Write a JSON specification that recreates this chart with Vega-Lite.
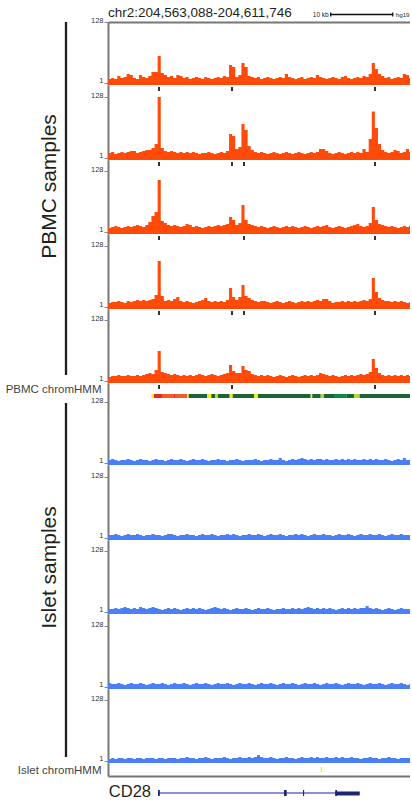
{
"$schema":"https://vega.github.io/schema/vega-lite/v6.json",
"background":"white",
"padding":{"left":5,"top":0,"right":0,"bottom":0},
"bounds":"flush",
"spacing":46,
"resolve":{"scale":{"x":"independent","y":"independent","color":"independent"}},
"config":{"font":"Liberation Sans","view":{"stroke":null},"axis":{"grid":false}},
"datasets":{
"header":[{"region":"chr2:204,563,088-204,611,746","start":0}],
"scalebar":[{"label":"10 kb","assembly":"hg19","start":35.88,"end":45.88}],
"peaks":[
{"track":"p1","x":8.22},{"track":"p1","x":19.98},{"track":"p1","x":43.02},
{"track":"p2","x":8.22},{"track":"p2","x":19.98},{"track":"p2","x":21.91},{"track":"p2","x":43.02},
{"track":"p3","x":8.22},{"track":"p3","x":21.91},{"track":"p3","x":43.02},
{"track":"p4","x":8.22},{"track":"p4","x":19.98},{"track":"p4","x":21.91},{"track":"p4","x":43.02},
{"track":"p5","x":8.22},{"track":"p5","x":19.98},{"track":"p5","x":43.02}],
"hmm":[
{"start":6.98,"end":7.41,"state":"Enhancer"},
{"start":7.41,"end":8.70,"state":"Active TSS"},
{"start":8.70,"end":10.63,"state":"Flanking TSS"},
{"start":10.63,"end":10.79,"state":"Active TSS"},
{"start":10.79,"end":12.78,"state":"Flanking TSS"},
{"start":12.78,"end":13.0,"state":"Enhancer"},
{"start":13.0,"end":16.0,"state":"Weak transcription"},
{"start":16.0,"end":16.64,"state":"Enhancer"},
{"start":16.64,"end":17.29,"state":"Weak transcription"},
{"start":17.29,"end":17.72,"state":"Genic enhancer"},
{"start":17.72,"end":19.61,"state":"Weak transcription"},
{"start":19.61,"end":20.09,"state":"Enhancer"},
{"start":20.09,"end":23.52,"state":"Weak transcription"},
{"start":23.52,"end":24.17,"state":"Enhancer"},
{"start":24.17,"end":32.66,"state":"Weak transcription"},
{"start":32.66,"end":32.91,"state":"Enhancer"},
{"start":32.91,"end":34.27,"state":"Weak transcription"},
{"start":34.27,"end":34.80,"state":"Genic enhancer"},
{"start":34.80,"end":36.41,"state":"Weak transcription"},
{"start":36.41,"end":38.39,"state":"Strong transcription"},
{"start":38.39,"end":39.63,"state":"Weak transcription"},
{"start":39.63,"end":40.55,"state":"Genic enhancer"},
{"start":40.55,"end":48.658,"state":"Weak transcription"}],
"islethmm":[{"start":34.27,"end":34.5,"state":"Enhancer"}],
"gene":[{"name":"CD28","start":8.06,"end":40.55}],
"exons":[
{"part":"exon","start":8.06,"end":8.35},
{"part":"exon","start":28.36,"end":28.79},
{"part":"exon","start":31.42,"end":31.6},
{"part":"exon","start":36.62,"end":36.9},
{"part":"UTR","start":36.62,"end":40.55}],
"sig":[
{"x":0,"p1":1.37,"p2":1.49,"p3":1.37,"p4":1.37,"p5":1.37,"i1":1.27,"i2":1.27,"i3":1.27,"i4":1.37,"i5":1.17},
{"x":0.5,"p1":1.49,"p2":1.61,"p3":1.49,"p4":1.49,"p5":1.49,"i1":1.37,"i2":1.27,"i3":1.27,"i4":1.27,"i5":1.27},
{"x":1,"p1":1.37,"p2":1.37,"p3":1.61,"p4":1.49,"p5":1.49,"i1":1.27,"i2":1.37,"i3":1.37,"i4":1.27,"i5":1.17},
{"x":1.5,"p1":1.75,"p2":1.49,"p3":1.49,"p4":1.61,"p5":1.61,"i1":1.17,"i2":1.27,"i3":1.27,"i4":1.37,"i5":1.27},
{"x":2,"p1":1.49,"p2":1.61,"p3":1.37,"p4":1.49,"p5":1.49,"i1":1.27,"i2":1.17,"i3":1.37,"i4":1.27,"i5":1.27},
{"x":2.5,"p1":1.61,"p2":1.49,"p3":1.49,"p4":1.37,"p5":1.49,"i1":1.27,"i2":1.27,"i3":1.49,"i4":1.17,"i5":1.17},
{"x":3,"p1":2.05,"p2":1.61,"p3":1.61,"p4":1.61,"p5":1.61,"i1":1.37,"i2":1.37,"i3":1.37,"i4":1.27,"i5":1.27},
{"x":3.5,"p1":1.89,"p2":1.75,"p3":1.49,"p4":1.49,"p5":1.49,"i1":1.27,"i2":1.27,"i3":1.27,"i4":1.37,"i5":1.27},
{"x":4,"p1":1.49,"p2":1.75,"p3":1.61,"p4":1.61,"p5":1.49,"i1":1.17,"i2":1.27,"i3":1.37,"i4":1.27,"i5":1.17},
{"x":4.5,"p1":1.37,"p2":1.49,"p3":1.75,"p4":1.75,"p5":1.61,"i1":1.27,"i2":1.37,"i3":1.27,"i4":1.27,"i5":1.27},
{"x":5,"p1":1.89,"p2":1.61,"p3":1.61,"p4":1.61,"p5":1.49,"i1":1.37,"i2":1.27,"i3":1.49,"i4":1.37,"i5":1.27},
{"x":5.5,"p1":1.61,"p2":1.75,"p3":1.49,"p4":1.75,"p5":1.61,"i1":1.27,"i2":1.17,"i3":1.37,"i4":1.27,"i5":1.17},
{"x":6,"p1":1.49,"p2":1.89,"p3":1.75,"p4":1.61,"p5":1.75,"i1":1.27,"i2":1.27,"i3":1.27,"i4":1.17,"i5":1.27},
{"x":6.5,"p1":1.75,"p2":1.89,"p3":2.22,"p4":1.75,"p5":1.89,"i1":1.17,"i2":1.27,"i3":1.37,"i4":1.27,"i5":1.27},
{"x":7,"p1":2.4,"p2":2.22,"p3":3.57,"p4":1.89,"p5":1.75,"i1":1.27,"i2":1.37,"i3":1.49,"i4":1.37,"i5":1.27},
{"x":7.5,"p1":2.4,"p2":3.05,"p3":4.91,"p4":2.6,"p5":2.4,"i1":1.37,"i2":1.27,"i3":1.37,"i4":1.27,"i5":1.17},
{"x":8,"p1":8.58,"p2":128,"p3":62.6,"p4":38.9,"p5":10.89,"i1":1.27,"i2":1.27,"i3":1.27,"i4":1.27,"i5":1.27},
{"x":8.5,"p1":2.22,"p2":2.22,"p3":2.4,"p4":2.4,"p5":2.05,"i1":1.27,"i2":1.17,"i3":1.17,"i4":1.37,"i5":1.27},
{"x":9,"p1":1.89,"p2":1.75,"p3":2.05,"p4":1.61,"p5":1.89,"i1":1.17,"i2":1.27,"i3":1.27,"i4":1.27,"i5":1.17},
{"x":9.5,"p1":1.61,"p2":1.61,"p3":1.75,"p4":1.75,"p5":1.75,"i1":1.27,"i2":1.37,"i3":1.37,"i4":1.17,"i5":1.27},
{"x":10,"p1":1.75,"p2":1.75,"p3":1.61,"p4":1.61,"p5":1.61,"i1":1.37,"i2":1.37,"i3":1.27,"i4":1.27,"i5":1.27},
{"x":10.5,"p1":1.49,"p2":1.61,"p3":1.75,"p4":1.89,"p5":1.75,"i1":1.27,"i2":1.27,"i3":1.37,"i4":1.37,"i5":1.27},
{"x":11,"p1":1.89,"p2":1.49,"p3":1.61,"p4":2.22,"p5":1.61,"i1":1.27,"i2":1.17,"i3":1.27,"i4":1.27,"i5":1.17},
{"x":11.5,"p1":1.75,"p2":1.61,"p3":1.49,"p4":1.61,"p5":1.49,"i1":1.37,"i2":1.27,"i3":1.17,"i4":1.27,"i5":1.27},
{"x":12,"p1":1.49,"p2":1.49,"p3":1.61,"p4":1.49,"p5":1.61,"i1":1.27,"i2":1.27,"i3":1.27,"i4":1.37,"i5":1.27},
{"x":12.5,"p1":1.61,"p2":1.61,"p3":1.89,"p4":1.61,"p5":1.49,"i1":1.17,"i2":1.37,"i3":1.37,"i4":1.27,"i5":1.37},
{"x":13,"p1":1.37,"p2":1.49,"p3":1.75,"p4":1.49,"p5":1.61,"i1":1.27,"i2":1.27,"i3":1.27,"i4":1.17,"i5":1.27},
{"x":13.5,"p1":1.49,"p2":1.61,"p3":1.49,"p4":1.37,"p5":1.49,"i1":1.37,"i2":1.27,"i3":1.37,"i4":1.27,"i5":1.27},
{"x":14,"p1":1.61,"p2":1.49,"p3":1.61,"p4":1.49,"p5":1.61,"i1":1.27,"i2":1.17,"i3":1.27,"i4":1.37,"i5":1.17},
{"x":14.5,"p1":1.49,"p2":1.37,"p3":1.49,"p4":1.61,"p5":1.75,"i1":1.27,"i2":1.27,"i3":1.37,"i4":1.27,"i5":1.27},
{"x":15,"p1":1.37,"p2":1.49,"p3":1.37,"p4":1.75,"p5":1.61,"i1":1.37,"i2":1.37,"i3":1.27,"i4":1.27,"i5":1.27},
{"x":15.5,"p1":1.61,"p2":1.49,"p3":1.49,"p4":2.05,"p5":1.49,"i1":1.27,"i2":1.27,"i3":1.17,"i4":1.37,"i5":1.37},
{"x":16,"p1":1.49,"p2":1.61,"p3":1.61,"p4":1.61,"p5":1.61,"i1":1.17,"i2":1.27,"i3":1.27,"i4":1.27,"i5":1.27},
{"x":16.5,"p1":1.37,"p2":1.49,"p3":1.49,"p4":1.49,"p5":1.75,"i1":1.27,"i2":1.37,"i3":1.37,"i4":1.17,"i5":1.17},
{"x":17,"p1":1.49,"p2":1.37,"p3":1.61,"p4":1.61,"p5":1.61,"i1":1.27,"i2":1.27,"i3":1.49,"i4":1.27,"i5":1.27},
{"x":17.5,"p1":1.61,"p2":1.49,"p3":1.75,"p4":1.49,"p5":1.49,"i1":1.37,"i2":1.17,"i3":1.37,"i4":1.37,"i5":1.27},
{"x":18,"p1":1.49,"p2":1.61,"p3":1.61,"p4":1.61,"p5":1.61,"i1":1.27,"i2":1.27,"i3":1.27,"i4":1.27,"i5":1.27},
{"x":18.5,"p1":1.75,"p2":1.49,"p3":1.75,"p4":1.49,"p5":1.75,"i1":1.27,"i2":1.27,"i3":1.37,"i4":1.27,"i5":1.37},
{"x":19,"p1":1.61,"p2":1.75,"p3":1.89,"p4":1.75,"p5":1.89,"i1":1.17,"i2":1.37,"i3":1.27,"i4":1.37,"i5":1.27},
{"x":19.5,"p1":4.19,"p2":6.75,"p3":3.3,"p4":4.54,"p5":3.57,"i1":1.27,"i2":1.27,"i3":1.17,"i4":1.27,"i5":1.17},
{"x":20,"p1":3.57,"p2":5.76,"p3":2.6,"p4":2.22,"p5":2.22,"i1":1.27,"i2":1.37,"i3":1.27,"i4":1.17,"i5":1.27},
{"x":20.5,"p1":1.61,"p2":2.05,"p3":1.75,"p4":1.75,"p5":1.89,"i1":1.37,"i2":1.27,"i3":1.37,"i4":1.27,"i5":1.27},
{"x":21,"p1":1.89,"p2":2.4,"p3":2.05,"p4":2.22,"p5":1.89,"i1":1.27,"i2":1.17,"i3":1.27,"i4":1.37,"i5":1.37},
{"x":21.5,"p1":4.91,"p2":14.97,"p3":8.58,"p4":5.76,"p5":3.3,"i1":1.17,"i2":1.27,"i3":1.27,"i4":1.27,"i5":1.27},
{"x":22,"p1":3.57,"p2":9.29,"p3":2.6,"p4":2.4,"p5":2.4,"i1":1.27,"i2":1.27,"i3":1.37,"i4":1.27,"i5":1.27},
{"x":22.5,"p1":1.75,"p2":2.6,"p3":1.89,"p4":2.05,"p5":2.22,"i1":1.27,"i2":1.37,"i3":1.27,"i4":1.37,"i5":1.37},
{"x":23,"p1":1.61,"p2":1.89,"p3":1.75,"p4":1.75,"p5":1.75,"i1":1.27,"i2":1.27,"i3":1.17,"i4":1.27,"i5":1.27},
{"x":23.5,"p1":1.49,"p2":1.61,"p3":1.61,"p4":1.61,"p5":1.61,"i1":1.37,"i2":1.27,"i3":1.27,"i4":1.17,"i5":1.37},
{"x":24,"p1":1.61,"p2":1.49,"p3":1.49,"p4":1.49,"p5":1.49,"i1":1.27,"i2":1.37,"i3":1.37,"i4":1.27,"i5":1.61},
{"x":24.5,"p1":1.37,"p2":1.61,"p3":1.61,"p4":1.61,"p5":1.61,"i1":1.17,"i2":1.27,"i3":1.27,"i4":1.37,"i5":1.37},
{"x":25,"p1":1.49,"p2":1.49,"p3":1.49,"p4":1.61,"p5":1.49,"i1":1.27,"i2":1.17,"i3":1.27,"i4":1.27,"i5":1.27},
{"x":25.5,"p1":1.61,"p2":1.37,"p3":1.37,"p4":1.49,"p5":1.61,"i1":1.27,"i2":1.27,"i3":1.37,"i4":1.27,"i5":1.27},
{"x":26,"p1":1.49,"p2":1.49,"p3":1.49,"p4":1.37,"p5":1.49,"i1":1.37,"i2":1.37,"i3":1.27,"i4":1.37,"i5":1.37},
{"x":26.5,"p1":1.37,"p2":1.61,"p3":1.61,"p4":1.49,"p5":1.37,"i1":1.27,"i2":1.27,"i3":1.17,"i4":1.27,"i5":1.27},
{"x":27,"p1":1.49,"p2":1.49,"p3":1.49,"p4":1.61,"p5":1.49,"i1":1.27,"i2":1.27,"i3":1.27,"i4":1.17,"i5":1.17},
{"x":27.5,"p1":1.61,"p2":1.37,"p3":1.37,"p4":1.49,"p5":1.61,"i1":1.49,"i2":1.37,"i3":1.27,"i4":1.27,"i5":1.27},
{"x":28,"p1":1.49,"p2":1.49,"p3":1.49,"p4":1.37,"p5":1.49,"i1":1.27,"i2":1.27,"i3":1.37,"i4":1.37,"i5":1.27},
{"x":28.5,"p1":2.05,"p2":1.61,"p3":1.61,"p4":1.49,"p5":1.37,"i1":1.17,"i2":1.17,"i3":1.27,"i4":1.27,"i5":1.37},
{"x":29,"p1":1.61,"p2":1.49,"p3":1.49,"p4":1.61,"p5":1.49,"i1":1.27,"i2":1.27,"i3":1.27,"i4":1.27,"i5":1.27},
{"x":29.5,"p1":1.49,"p2":1.37,"p3":1.61,"p4":1.49,"p5":1.61,"i1":1.37,"i2":1.27,"i3":1.37,"i4":1.37,"i5":1.27},
{"x":30,"p1":1.37,"p2":1.49,"p3":1.49,"p4":1.37,"p5":1.49,"i1":1.27,"i2":1.37,"i3":1.27,"i4":1.27,"i5":1.17},
{"x":30.5,"p1":1.49,"p2":1.61,"p3":1.37,"p4":1.49,"p5":1.37,"i1":1.37,"i2":1.27,"i3":1.37,"i4":1.17,"i5":1.27},
{"x":31,"p1":1.61,"p2":1.49,"p3":1.49,"p4":1.61,"p5":1.49,"i1":1.49,"i2":1.37,"i3":1.27,"i4":1.27,"i5":1.37},
{"x":31.5,"p1":1.37,"p2":1.37,"p3":1.61,"p4":1.49,"p5":1.61,"i1":1.37,"i2":1.27,"i3":1.37,"i4":1.37,"i5":1.27},
{"x":32,"p1":1.49,"p2":1.49,"p3":1.49,"p4":1.61,"p5":1.49,"i1":1.27,"i2":1.17,"i3":1.49,"i4":1.27,"i5":1.27},
{"x":32.5,"p1":1.61,"p2":1.61,"p3":1.37,"p4":1.49,"p5":1.61,"i1":1.37,"i2":1.27,"i3":1.37,"i4":1.27,"i5":1.37},
{"x":33,"p1":1.49,"p2":1.49,"p3":1.49,"p4":1.61,"p5":1.49,"i1":1.27,"i2":1.37,"i3":1.27,"i4":1.37,"i5":1.27},
{"x":33.5,"p1":1.89,"p2":1.61,"p3":1.61,"p4":1.75,"p5":1.61,"i1":1.37,"i2":1.27,"i3":1.37,"i4":1.27,"i5":1.37},
{"x":34,"p1":1.61,"p2":2.05,"p3":1.49,"p4":1.61,"p5":1.89,"i1":1.37,"i2":1.27,"i3":1.27,"i4":1.17,"i5":1.27},
{"x":34.5,"p1":1.49,"p2":2.05,"p3":1.61,"p4":1.89,"p5":1.75,"i1":1.27,"i2":1.37,"i3":1.37,"i4":1.27,"i5":1.27},
{"x":35,"p1":1.37,"p2":1.75,"p3":1.75,"p4":1.89,"p5":1.61,"i1":1.37,"i2":1.27,"i3":1.27,"i4":1.37,"i5":1.37},
{"x":35.5,"p1":1.49,"p2":1.49,"p3":1.49,"p4":1.61,"p5":1.49,"i1":1.27,"i2":1.27,"i3":1.37,"i4":1.27,"i5":1.27},
{"x":36,"p1":1.61,"p2":1.37,"p3":1.37,"p4":1.37,"p5":1.61,"i1":1.27,"i2":1.17,"i3":1.27,"i4":1.27,"i5":1.27},
{"x":36.5,"p1":1.49,"p2":1.49,"p3":1.49,"p4":1.49,"p5":1.49,"i1":1.37,"i2":1.27,"i3":1.17,"i4":1.37,"i5":1.37},
{"x":37,"p1":1.37,"p2":1.61,"p3":1.61,"p4":1.49,"p5":1.37,"i1":1.27,"i2":1.37,"i3":1.27,"i4":1.27,"i5":1.27},
{"x":37.5,"p1":1.61,"p2":1.49,"p3":1.49,"p4":1.61,"p5":1.49,"i1":1.37,"i2":1.27,"i3":1.37,"i4":1.17,"i5":1.37},
{"x":38,"p1":1.75,"p2":1.37,"p3":1.37,"p4":1.49,"p5":1.61,"i1":1.27,"i2":1.27,"i3":1.27,"i4":1.27,"i5":1.27},
{"x":38.5,"p1":1.49,"p2":1.49,"p3":1.49,"p4":1.61,"p5":1.49,"i1":1.37,"i2":1.37,"i3":1.37,"i4":1.37,"i5":1.27},
{"x":39,"p1":1.37,"p2":1.61,"p3":1.61,"p4":1.49,"p5":1.61,"i1":1.27,"i2":1.27,"i3":1.27,"i4":1.27,"i5":1.37},
{"x":39.5,"p1":1.49,"p2":1.49,"p3":1.75,"p4":1.61,"p5":1.49,"i1":1.37,"i2":1.17,"i3":1.37,"i4":1.27,"i5":1.27},
{"x":40,"p1":1.61,"p2":1.61,"p3":1.89,"p4":1.49,"p5":1.61,"i1":1.27,"i2":1.27,"i3":1.27,"i4":1.37,"i5":1.27},
{"x":40.5,"p1":1.49,"p2":1.49,"p3":1.61,"p4":1.61,"p5":1.75,"i1":1.27,"i2":1.37,"i3":1.37,"i4":1.27,"i5":1.17},
{"x":41,"p1":1.75,"p2":2.05,"p3":1.49,"p4":1.75,"p5":1.61,"i1":1.37,"i2":1.27,"i3":1.37,"i4":1.17,"i5":1.27},
{"x":41.5,"p1":1.61,"p2":1.61,"p3":1.61,"p4":1.61,"p5":1.75,"i1":1.27,"i2":1.27,"i3":1.61,"i4":1.27,"i5":1.27},
{"x":42,"p1":2.05,"p2":4.54,"p3":2.05,"p4":1.89,"p5":2.05,"i1":1.37,"i2":1.37,"i3":1.37,"i4":1.37,"i5":1.37},
{"x":42.5,"p1":4.91,"p2":40,"p3":7.31,"p4":10.06,"p5":5.76,"i1":1.27,"i2":1.27,"i3":1.27,"i4":1.27,"i5":1.27},
{"x":43,"p1":3.05,"p2":10.89,"p3":2.6,"p4":3.3,"p5":2.81,"i1":1.37,"i2":1.27,"i3":1.37,"i4":1.27,"i5":1.27},
{"x":43.5,"p1":2.05,"p2":3.05,"p3":1.89,"p4":2.05,"p5":1.89,"i1":1.27,"i2":1.37,"i3":1.27,"i4":1.37,"i5":1.17},
{"x":44,"p1":1.75,"p2":1.89,"p3":1.75,"p4":1.75,"p5":1.61,"i1":1.27,"i2":1.27,"i3":1.17,"i4":1.27,"i5":1.27},
{"x":44.5,"p1":1.49,"p2":1.61,"p3":1.61,"p4":1.61,"p5":1.49,"i1":1.37,"i2":1.17,"i3":1.27,"i4":1.17,"i5":1.27},
{"x":45,"p1":1.61,"p2":1.49,"p3":1.49,"p4":1.61,"p5":1.61,"i1":1.27,"i2":1.27,"i3":1.37,"i4":1.27,"i5":1.37},
{"x":45.5,"p1":1.37,"p2":1.61,"p3":1.61,"p4":1.49,"p5":1.49,"i1":1.17,"i2":1.37,"i3":1.27,"i4":1.37,"i5":1.27},
{"x":46,"p1":1.49,"p2":1.89,"p3":1.49,"p4":1.61,"p5":1.61,"i1":1.27,"i2":1.27,"i3":1.17,"i4":1.27,"i5":1.27},
{"x":46.5,"p1":1.61,"p2":1.75,"p3":1.37,"p4":1.49,"p5":1.49,"i1":1.37,"i2":1.27,"i3":1.27,"i4":1.27,"i5":1.17},
{"x":47,"p1":1.49,"p2":1.49,"p3":1.49,"p4":1.61,"p5":1.61,"i1":1.27,"i2":1.37,"i3":1.37,"i4":1.37,"i5":1.27},
{"x":47.5,"p1":2.05,"p2":1.61,"p3":1.61,"p4":1.49,"p5":1.49,"i1":1.49,"i2":1.27,"i3":1.27,"i4":1.27,"i5":1.27},
{"x":48,"p1":1.89,"p2":2.05,"p3":1.49,"p4":1.37,"p5":1.61,"i1":1.27,"i2":1.27,"i3":1.27,"i4":1.17,"i5":1.27},
{"x":48.5,"p1":1.49,"p2":1.61,"p3":1.61,"p4":1.49,"p5":1.49,"i1":1.27,"i2":1.27,"i3":1.27,"i4":1.27,"i5":1.27},
{"x":48.658,"p1":1.49,"p2":1.61,"p3":1.61,"p4":1.49,"p5":1.49,"i1":1.27,"i2":1.27,"i3":1.27,"i4":1.27,"i5":1.27}]
},
"hconcat":[
{"vconcat":[
 {"width":8,"height":22,"data":{"values":[]},"mark":"rule","encoding":{}},
 {"width":8,"height":353,"data":{"values":[{"group":"PBMC samples","first":1,"last":5}]},
  "mark":{"type":"rule","strokeWidth":2.3,"color":"#231f20"},
  "encoding":{"x":{"datum":0,"type":"quantitative","scale":{"domain":[-1,1]},"axis":null},
   "y":{"field":"first","type":"quantitative","scale":{"domain":[1,5],"nice":false,"zero":false},"axis":{"title":"PBMC samples","labels":false,"ticks":false,"domain":false,"grid":false,"titleFontSize":21,"titleFontWeight":"normal","titleColor":"#231f20","titlePadding":3,"titleY":164}},
   "y2":{"field":"last"}}},
 {"width":8,"height":28,"data":{"values":[]},"mark":"rule","encoding":{}},
 {"width":8,"height":354,"data":{"values":[{"group":"Islet samples","first":6,"last":10}]},
  "mark":{"type":"rule","strokeWidth":2.3,"color":"#231f20"},
  "encoding":{"x":{"datum":0,"type":"quantitative","scale":{"domain":[-1,1]},"axis":null},
   "y":{"field":"first","type":"quantitative","scale":{"domain":[6,10],"nice":false,"zero":false},"axis":{"title":"Islet samples","labels":false,"ticks":false,"domain":false,"grid":false,"titleFontSize":21,"titleFontWeight":"normal","titleColor":"#231f20","titlePadding":3,"titleY":164}},
   "y2":{"field":"last"}}}
],"spacing":0,"bounds":"flush","resolve":{"scale":{"x":"independent","y":"independent"}}},
{"vconcat":[
 {"width":302,"height":22,"layer":[
  {"data":{"name":"header"},"mark":{"type":"text","align":"left","baseline":"alphabetic","fontSize":13.5,"color":"#231f20"},
   "encoding":{"x":{"field":"start","type":"quantitative","scale":{"domain":[0,48.658],"nice":false,"zero":false},"axis":null},"y":{"datum":0.23,"type":"quantitative","scale":{"domain":[0,1]},"axis":null},"text":{"field":"region"}}},
  {"data":{"name":"scalebar"},"mark":{"type":"rule","color":"#111","strokeWidth":1.3},
   "encoding":{"x":{"field":"start","type":"quantitative"},"x2":{"field":"end"},"y":{"datum":0.34,"type":"quantitative"}}},
  {"data":{"name":"scalebar"},"mark":{"type":"rule","color":"#111","strokeWidth":1.3},
   "encoding":{"x":{"field":"start","type":"quantitative"},"y":{"datum":0.25,"type":"quantitative"},"y2":{"datum":0.43}}},
  {"data":{"name":"scalebar"},"mark":{"type":"rule","color":"#111","strokeWidth":1.3},
   "encoding":{"x":{"field":"end","type":"quantitative"},"y":{"datum":0.25,"type":"quantitative"},"y2":{"datum":0.43}}},
  {"data":{"name":"scalebar"},"mark":{"type":"text","align":"right","dx":-2,"baseline":"middle","fontSize":6.5,"color":"#231f20"},
   "encoding":{"x":{"field":"start","type":"quantitative"},"y":{"datum":0.34,"type":"quantitative"},"text":{"field":"label"}}},
  {"data":{"name":"scalebar"},"mark":{"type":"text","align":"left","dx":3,"baseline":"middle","fontSize":6.2,"color":"#231f20","limit":15,"ellipsis":""},
   "encoding":{"x":{"field":"end","type":"quantitative"},"y":{"datum":0.34,"type":"quantitative"},"text":{"field":"assembly"}}}
 ]},
 {"width":302,"height":63,"data":{"name":"sig"},"mark":{"type":"area","interpolate":"step-after","color":"#ff4a0a"},
  "encoding":{"x":{"field":"x","type":"quantitative","scale":{"domain":[0,48.658],"nice":false,"zero":false},"axis":{"orient":"top","labels":false,"ticks":false,"title":null,"grid":false,"domainColor":"#777","domainWidth":2}},
   "y":{"field":"p1","type":"quantitative","scale":{"type":"log","base":2,"domain":[0.85,128],"nice":false},"axis":{"values":[1,128],"format":"d","title":null,"grid":false,"labelFontSize":7.5,"labelColor":"#333","labelBaseline":"alphabetic","labelPadding":1,"labelFlush":false,"labelOverlap":false,"tickSize":4,"tickColor":"#888","domainColor":"#777","domainWidth":2}},
   "y2":{"datum":0.85}}},
 {"width":302,"height":12,"data":{"name":"peaks"},"transform":[{"filter":"datum.track == 'p1'"}],"mark":{"type":"rule","color":"#000","strokeWidth":1.6},
  "encoding":{"x":{"field":"x","type":"quantitative","scale":{"domain":[0,48.658],"nice":false,"zero":false},"axis":null},"y":{"datum":0.83,"type":"quantitative","scale":{"domain":[0,1]},"axis":{"title":null,"labels":false,"ticks":false,"grid":false,"domainColor":"#777","domainWidth":2}},"y2":{"datum":0.5}}},
 {"width":302,"height":63,"data":{"name":"sig"},"mark":{"type":"area","interpolate":"step-after","color":"#ff4a0a"},
  "encoding":{"x":{"field":"x","type":"quantitative","scale":{"domain":[0,48.658],"nice":false,"zero":false},"axis":null},
   "y":{"field":"p2","type":"quantitative","scale":{"type":"log","base":2,"domain":[0.85,128],"nice":false},"axis":{"values":[1,128],"format":"d","title":null,"grid":false,"labelFontSize":7.5,"labelColor":"#333","labelBaseline":"alphabetic","labelPadding":1,"labelFlush":false,"labelOverlap":false,"tickSize":4,"tickColor":"#888","domainColor":"#777","domainWidth":2}},
   "y2":{"datum":0.85}}},
 {"width":302,"height":11,"data":{"name":"peaks"},"transform":[{"filter":"datum.track == 'p2'"}],"mark":{"type":"rule","color":"#000","strokeWidth":1.6},
  "encoding":{"x":{"field":"x","type":"quantitative","scale":{"domain":[0,48.658],"nice":false,"zero":false},"axis":null},"y":{"datum":0.82,"type":"quantitative","scale":{"domain":[0,1]},"axis":{"title":null,"labels":false,"ticks":false,"grid":false,"domainColor":"#777","domainWidth":2}},"y2":{"datum":0.45}}},
 {"width":302,"height":63,"data":{"name":"sig"},"mark":{"type":"area","interpolate":"step-after","color":"#ff4a0a"},
  "encoding":{"x":{"field":"x","type":"quantitative","scale":{"domain":[0,48.658],"nice":false,"zero":false},"axis":null},
   "y":{"field":"p3","type":"quantitative","scale":{"type":"log","base":2,"domain":[0.85,128],"nice":false},"axis":{"values":[1,128],"format":"d","title":null,"grid":false,"labelFontSize":7.5,"labelColor":"#333","labelBaseline":"alphabetic","labelPadding":1,"labelFlush":false,"labelOverlap":false,"tickSize":4,"tickColor":"#888","domainColor":"#777","domainWidth":2}},
   "y2":{"datum":0.85}}},
 {"width":302,"height":12,"data":{"name":"peaks"},"transform":[{"filter":"datum.track == 'p3'"}],"mark":{"type":"rule","color":"#000","strokeWidth":1.6},
  "encoding":{"x":{"field":"x","type":"quantitative","scale":{"domain":[0,48.658],"nice":false,"zero":false},"axis":null},"y":{"datum":0.83,"type":"quantitative","scale":{"domain":[0,1]},"axis":{"title":null,"labels":false,"ticks":false,"grid":false,"domainColor":"#777","domainWidth":2}},"y2":{"datum":0.5}}},
 {"width":302,"height":63,"data":{"name":"sig"},"mark":{"type":"area","interpolate":"step-after","color":"#ff4a0a"},
  "encoding":{"x":{"field":"x","type":"quantitative","scale":{"domain":[0,48.658],"nice":false,"zero":false},"axis":null},
   "y":{"field":"p4","type":"quantitative","scale":{"type":"log","base":2,"domain":[0.85,128],"nice":false},"axis":{"values":[1,128],"format":"d","title":null,"grid":false,"labelFontSize":7.5,"labelColor":"#333","labelBaseline":"alphabetic","labelPadding":1,"labelFlush":false,"labelOverlap":false,"tickSize":4,"tickColor":"#888","domainColor":"#777","domainWidth":2}},
   "y2":{"datum":0.85}}},
 {"width":302,"height":11,"data":{"name":"peaks"},"transform":[{"filter":"datum.track == 'p4'"}],"mark":{"type":"rule","color":"#000","strokeWidth":1.6},
  "encoding":{"x":{"field":"x","type":"quantitative","scale":{"domain":[0,48.658],"nice":false,"zero":false},"axis":null},"y":{"datum":0.82,"type":"quantitative","scale":{"domain":[0,1]},"axis":{"title":null,"labels":false,"ticks":false,"grid":false,"domainColor":"#777","domainWidth":2}},"y2":{"datum":0.45}}},
 {"width":302,"height":63,"data":{"name":"sig"},"mark":{"type":"area","interpolate":"step-after","color":"#ff4a0a"},
  "encoding":{"x":{"field":"x","type":"quantitative","scale":{"domain":[0,48.658],"nice":false,"zero":false},"axis":null},
   "y":{"field":"p5","type":"quantitative","scale":{"type":"log","base":2,"domain":[0.85,128],"nice":false},"axis":{"values":[1,128],"format":"d","title":null,"grid":false,"labelFontSize":7.5,"labelColor":"#333","labelBaseline":"alphabetic","labelPadding":1,"labelFlush":false,"labelOverlap":false,"tickSize":4,"tickColor":"#888","domainColor":"#777","domainWidth":2}},
   "y2":{"datum":0.85}}},
 {"width":302,"height":19,"layer":[
  {"data":{"name":"peaks"},"transform":[{"filter":"datum.track == 'p5'"}],"mark":{"type":"rule","color":"#000","strokeWidth":1.6},
   "encoding":{"x":{"field":"x","type":"quantitative","scale":{"domain":[0,48.658],"nice":false,"zero":false},"axis":null},
    "y":{"datum":0.895,"type":"quantitative","scale":{"domain":[0,1]},"axis":{"values":[0.68],"labelExpr":"'PBMC chromHMM'","title":null,"ticks":false,"grid":false,"labelFontSize":11.5,"labelColor":"#444","labelPadding":7,"labelBaseline":"middle","labelFlush":false,"domainColor":"#777","domainWidth":2}},
    "y2":{"datum":0.684}}},
  {"data":{"name":"hmm"},"mark":{"type":"rect"},
   "encoding":{"x":{"field":"start","type":"quantitative"},"x2":{"field":"end"},"y":{"datum":0.421,"type":"quantitative"},"y2":{"datum":0.211},
    "color":{"field":"state","type":"nominal","scale":{"domain":["Active TSS","Flanking TSS","Strong transcription","Weak transcription","Genic enhancer","Enhancer"],"range":["#e8262a","#f15a2b","#0b8a43","#1b6535","#b8d432","#f6eb16"]},"legend":null}}}
 ]},
 {"width":302,"height":63,"data":{"name":"sig"},"mark":{"type":"area","interpolate":"step-after","color":"#4a7ff5"},
  "encoding":{"x":{"field":"x","type":"quantitative","scale":{"domain":[0,48.658],"nice":false,"zero":false},"axis":null},
   "y":{"field":"i1","type":"quantitative","scale":{"type":"log","base":2,"domain":[0.85,128],"nice":false},"axis":{"values":[1,128],"format":"d","title":null,"grid":false,"labelFontSize":7.5,"labelColor":"#333","labelBaseline":"alphabetic","labelPadding":1,"labelFlush":false,"labelOverlap":false,"tickSize":4,"tickColor":"#888","domainColor":"#777","domainWidth":2}},
   "y2":{"datum":0.85}}},
 {"width":302,"height":12,"data":{"name":"peaks"},"transform":[{"filter":"datum.track == 'i1'"}],"mark":{"type":"rule","color":"#000","strokeWidth":1.6},
  "encoding":{"x":{"field":"x","type":"quantitative","scale":{"domain":[0,48.658],"nice":false,"zero":false},"axis":null},"y":{"datum":0.83,"type":"quantitative","scale":{"domain":[0,1]},"axis":{"title":null,"labels":false,"ticks":false,"grid":false,"domainColor":"#777","domainWidth":2}},"y2":{"datum":0.5}}},
 {"width":302,"height":63,"data":{"name":"sig"},"mark":{"type":"area","interpolate":"step-after","color":"#4a7ff5"},
  "encoding":{"x":{"field":"x","type":"quantitative","scale":{"domain":[0,48.658],"nice":false,"zero":false},"axis":null},
   "y":{"field":"i2","type":"quantitative","scale":{"type":"log","base":2,"domain":[0.85,128],"nice":false},"axis":{"values":[1,128],"format":"d","title":null,"grid":false,"labelFontSize":7.5,"labelColor":"#333","labelBaseline":"alphabetic","labelPadding":1,"labelFlush":false,"labelOverlap":false,"tickSize":4,"tickColor":"#888","domainColor":"#777","domainWidth":2}},
   "y2":{"datum":0.85}}},
 {"width":302,"height":11,"data":{"name":"peaks"},"transform":[{"filter":"datum.track == 'i2'"}],"mark":{"type":"rule","color":"#000","strokeWidth":1.6},
  "encoding":{"x":{"field":"x","type":"quantitative","scale":{"domain":[0,48.658],"nice":false,"zero":false},"axis":null},"y":{"datum":0.82,"type":"quantitative","scale":{"domain":[0,1]},"axis":{"title":null,"labels":false,"ticks":false,"grid":false,"domainColor":"#777","domainWidth":2}},"y2":{"datum":0.45}}},
 {"width":302,"height":63,"data":{"name":"sig"},"mark":{"type":"area","interpolate":"step-after","color":"#4a7ff5"},
  "encoding":{"x":{"field":"x","type":"quantitative","scale":{"domain":[0,48.658],"nice":false,"zero":false},"axis":null},
   "y":{"field":"i3","type":"quantitative","scale":{"type":"log","base":2,"domain":[0.85,128],"nice":false},"axis":{"values":[1,128],"format":"d","title":null,"grid":false,"labelFontSize":7.5,"labelColor":"#333","labelBaseline":"alphabetic","labelPadding":1,"labelFlush":false,"labelOverlap":false,"tickSize":4,"tickColor":"#888","domainColor":"#777","domainWidth":2}},
   "y2":{"datum":0.85}}},
 {"width":302,"height":12,"data":{"name":"peaks"},"transform":[{"filter":"datum.track == 'i3'"}],"mark":{"type":"rule","color":"#000","strokeWidth":1.6},
  "encoding":{"x":{"field":"x","type":"quantitative","scale":{"domain":[0,48.658],"nice":false,"zero":false},"axis":null},"y":{"datum":0.83,"type":"quantitative","scale":{"domain":[0,1]},"axis":{"title":null,"labels":false,"ticks":false,"grid":false,"domainColor":"#777","domainWidth":2}},"y2":{"datum":0.5}}},
 {"width":302,"height":63,"data":{"name":"sig"},"mark":{"type":"area","interpolate":"step-after","color":"#4a7ff5"},
  "encoding":{"x":{"field":"x","type":"quantitative","scale":{"domain":[0,48.658],"nice":false,"zero":false},"axis":null},
   "y":{"field":"i4","type":"quantitative","scale":{"type":"log","base":2,"domain":[0.85,128],"nice":false},"axis":{"values":[1,128],"format":"d","title":null,"grid":false,"labelFontSize":7.5,"labelColor":"#333","labelBaseline":"alphabetic","labelPadding":1,"labelFlush":false,"labelOverlap":false,"tickSize":4,"tickColor":"#888","domainColor":"#777","domainWidth":2}},
   "y2":{"datum":0.85}}},
 {"width":302,"height":11,"data":{"name":"peaks"},"transform":[{"filter":"datum.track == 'i4'"}],"mark":{"type":"rule","color":"#000","strokeWidth":1.6},
  "encoding":{"x":{"field":"x","type":"quantitative","scale":{"domain":[0,48.658],"nice":false,"zero":false},"axis":null},"y":{"datum":0.82,"type":"quantitative","scale":{"domain":[0,1]},"axis":{"title":null,"labels":false,"ticks":false,"grid":false,"domainColor":"#777","domainWidth":2}},"y2":{"datum":0.45}}},
 {"width":302,"height":63,"data":{"name":"sig"},"mark":{"type":"area","interpolate":"step-after","color":"#4a7ff5"},
  "encoding":{"x":{"field":"x","type":"quantitative","scale":{"domain":[0,48.658],"nice":false,"zero":false},"axis":null},
   "y":{"field":"i5","type":"quantitative","scale":{"type":"log","base":2,"domain":[0.85,128],"nice":false},"axis":{"values":[1,128],"format":"d","title":null,"grid":false,"labelFontSize":7.5,"labelColor":"#333","labelBaseline":"alphabetic","labelPadding":1,"labelFlush":false,"labelOverlap":false,"tickSize":4,"tickColor":"#888","domainColor":"#777","domainWidth":2}},
   "y2":{"datum":0.85}}},
 {"width":302,"height":13,"data":{"name":"islethmm"},"mark":{"type":"rect"},
  "encoding":{"x":{"field":"start","type":"quantitative","scale":{"domain":[0,48.658],"nice":false,"zero":false},"axis":{"orient":"bottom","labels":false,"ticks":false,"title":null,"grid":false,"domainColor":"#777","domainWidth":2}},"x2":{"field":"end"},
   "y":{"datum":0.69,"type":"quantitative","scale":{"domain":[0,1]},"axis":{"values":[0.46],"labelExpr":"'Islet chromHMM'","title":null,"ticks":false,"grid":false,"labelFontSize":11.5,"labelColor":"#444","labelPadding":7,"labelBaseline":"middle","labelFlush":false,"domainColor":"#777","domainWidth":2}},
   "y2":{"datum":0.31},
   "color":{"field":"state","type":"nominal","scale":{"domain":["Active TSS","Flanking TSS","Strong transcription","Weak transcription","Genic enhancer","Enhancer"],"range":["#e8262a","#f15a2b","#0b8a43","#1b6535","#b8d432","#f6eb16"]},"legend":null}}},
 {"width":302,"height":29,"layer":[
  {"data":{"name":"gene"},"mark":{"type":"rule","color":"#8c8fd6","strokeWidth":2.2},
   "encoding":{"x":{"field":"start","type":"quantitative","scale":{"domain":[0,48.658],"nice":false,"zero":false},"axis":null},"x2":{"field":"end"},"y":{"datum":0.414,"type":"quantitative","scale":{"domain":[0,1]},"axis":null}}},
  {"data":{"name":"exons"},"transform":[{"filter":"datum.part == 'exon'"}],"mark":{"type":"rect","color":"#1c2570"},
   "encoding":{"x":{"field":"start","type":"quantitative"},"x2":{"field":"end"},"y":{"datum":0.517,"type":"quantitative"},"y2":{"datum":0.31}}},
  {"data":{"name":"exons"},"transform":[{"filter":"datum.part == 'UTR'"}],"mark":{"type":"rect","color":"#1c2570"},
   "encoding":{"x":{"field":"start","type":"quantitative"},"x2":{"field":"end"},"y":{"datum":0.466,"type":"quantitative"},"y2":{"datum":0.328}}},
  {"data":{"name":"gene"},"mark":{"type":"text","align":"right","dx":-7,"baseline":"middle","fontSize":16.5,"color":"#231f20"},
   "encoding":{"x":{"field":"start","type":"quantitative"},"y":{"datum":0.448,"type":"quantitative"},"text":{"field":"name"}}}
 ]}
],"spacing":0,"bounds":"flush","resolve":{"scale":{"x":"independent","y":"independent","color":"independent"}}}
]
}
